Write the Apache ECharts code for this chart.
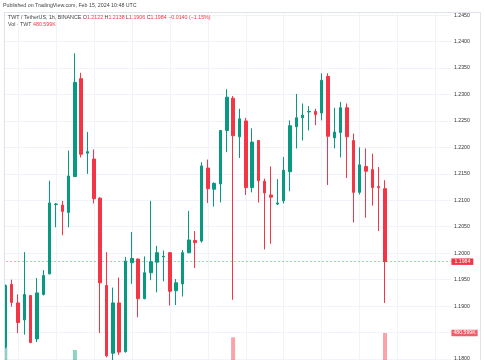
<!DOCTYPE html>
<html><head><meta charset="utf-8">
<script src="https://cdn.jsdelivr.net/npm/echarts@6/dist/echarts.min.js"></script>
<style>html,body{margin:0;padding:0;background:#fff}#c{width:485px;height:360px}</style>
</head><body><div id="c"></div>
<script>
// ---- data (TWT / TetherUS, 1h, BINANCE) ----
const categories = [
 '02-12 22:00','02-12 23:00',
 '02-13 00:00','02-13 01:00','02-13 02:00','02-13 03:00','02-13 04:00','02-13 05:00','02-13 06:00','02-13 07:00',
 '02-13 08:00','02-13 09:00','02-13 10:00','02-13 11:00','02-13 12:00','02-13 13:00','02-13 14:00','02-13 15:00',
 '02-13 16:00','02-13 17:00','02-13 18:00','02-13 19:00','02-13 20:00','02-13 21:00','02-13 22:00','02-13 23:00',
 '02-14 00:00','02-14 01:00','02-14 02:00','02-14 03:00','02-14 04:00','02-14 05:00','02-14 06:00','02-14 07:00',
 '02-14 08:00','02-14 09:00','02-14 10:00','02-14 11:00','02-14 12:00','02-14 13:00','02-14 14:00','02-14 15:00',
 '02-14 16:00','02-14 17:00','02-14 18:00','02-14 19:00','02-14 20:00','02-14 21:00','02-14 22:00','02-14 23:00',
 '02-15 00:00','02-15 01:00','02-15 02:00','02-15 03:00','02-15 04:00','02-15 05:00','02-15 06:00','02-15 07:00',
 '02-15 08:00','02-15 09:00','02-15 10:00'
];
const openP  = [1.1822,1.1941,1.1906,1.1874,1.1920,1.1838,1.1922,1.1961,1.2092,1.2091,1.2077,1.2145,1.2330,1.2189,1.2178,1.2104,1.1939,1.1811,1.1906,1.1814,1.1982,1.1989,1.1914,1.1963,1.1983,1.1993,1.2001,1.1929,1.1942,1.2001,1.2024,1.2023,1.2161,1.2121,1.2131,1.2232,1.2293,1.2220,1.2250,1.2124,1.2213,1.2136,1.2110,1.2093,1.2099,1.2154,1.2239,1.2256,1.2267,1.2268,1.2265,1.2334,1.2218,1.2228,1.2275,1.2213,1.2115,1.2164,1.2158,1.2126,1.2122];
const closeP = [1.1939,1.1907,1.1869,1.1922,1.1831,1.1925,1.1958,1.2095,1.2093,1.2079,1.2146,1.2323,1.2187,1.2192,1.2103,1.1944,1.1806,1.1906,1.1813,1.1985,1.1990,1.1914,1.1963,1.1984,1.2001,1.1994,1.1928,1.1944,1.2001,1.2025,1.2020,1.2165,1.2122,1.2132,1.2232,1.2295,1.2222,1.2254,1.2124,1.2210,1.2137,1.2114,1.2106,1.2095,1.2157,1.2241,1.2256,1.2261,1.2268,1.2262,1.2327,1.2221,1.2229,1.2275,1.2220,1.2115,1.2167,1.2155,1.2124,1.2124,1.1984];
const lowP   = [1.1820,1.1899,1.1849,1.1846,1.1830,1.1832,1.1920,1.1960,1.2049,1.2034,1.2049,1.2144,1.2181,1.2150,1.2094,1.1849,1.1803,1.1798,1.1808,1.1812,1.1942,1.1879,1.1913,1.1949,1.1926,1.1947,1.1901,1.1902,1.1918,1.2000,1.1972,1.2020,1.2095,1.2088,1.2096,1.2191,1.1912,1.2180,1.2110,1.2115,1.2096,1.2007,1.2018,1.2091,1.2094,1.2117,1.2198,1.2213,1.2232,1.2242,1.2251,1.2129,1.2198,1.2181,1.2142,1.2058,1.2111,1.2067,1.2090,1.2042,1.1906];
const highP  = [1.1941,1.1950,1.1922,1.2002,1.1921,1.1953,1.1968,1.2137,1.2095,1.2099,1.2194,1.2378,1.2341,1.2229,1.2196,1.2106,1.2002,1.1935,1.1954,1.1993,1.2040,1.1990,1.1994,1.2099,1.2014,1.2005,1.2002,1.1951,1.2006,1.2080,1.2042,1.2172,1.2177,1.2134,1.2232,1.2310,1.2297,1.2273,1.2256,1.2236,1.2214,1.2141,1.2164,1.2140,1.2182,1.2251,1.2301,1.2283,1.2278,1.2273,1.2340,1.2340,1.2275,1.2286,1.2283,1.2226,1.2200,1.2198,1.2188,1.2163,1.2138];
const volumeK = [309,95,88,120,105,110,60,150,70,55,130,286,165,90,100,160,165,140,120,150,80,95,70,85,60,45,70,50,65,60,55,140,110,60,120,130,431,110,150,120,100,110,90,60,95,120,100,70,50,55,110,160,80,100,110,150,100,95,85,90,480.599];
const priceTicks = {min: 1.175, max: 1.250, step: 0.005};

// ---- layout ----
const UP = '#089981', DOWN = '#F23645';
const STEP = 6.328, X0 = 5.3, NCAT = 71;
const PX_PER = 5290, Y_REF = 253.2;  // pixel of 1.2000
const gridLeft = X0 - STEP / 2, gridWidth = NCAT * STEP;
const yTop = Y_REF - (priceTicks.max - 1.2) * PX_PER;
const yBot = Y_REF + (1.2 - priceTicks.min) * PX_PER;
const FONT = '"Liberation Sans", Arial, sans-serif';

const n = openP.length;
const xData = categories.concat(Array(NCAT - n).fill(''));
const candleData = openP.map((o, i) => [o, closeP[i], lowP[i], highP[i]]);
const volData = volumeK.map((v, i) => ({
  value: v,
  itemStyle: {color: closeP[i] >= openP[i] ? 'rgba(8,153,129,0.45)' : 'rgba(242,54,69,0.45)'}
}));
const last = n - 1;
const chg = closeP[last] - closeP[last - 1];
const pct = chg / closeP[last - 1] * 100;
const sgn = chg < 0 ? '\u2212' : '+';
const chgTxt = sgn + Math.abs(chg).toFixed(4) + ' (' + sgn + Math.abs(pct).toFixed(2) + '%)';
const volTxt = volumeK[last].toFixed(3) + 'K';
const priceTxt = closeP[last].toFixed(4);

const richStyles = {a: {fontSize: 5.3, color: '#444', fontFamily: FONT}, r: {fontSize: 5.3, color: DOWN, fontFamily: FONT}};

const chart = echarts.init(document.getElementById('c'), null, {renderer: 'canvas'});
chart.setOption({
  animation: false,
  backgroundColor: '#fff',
  textStyle: {fontFamily: FONT},
  title: [
    {text: 'Published on TradingView.com, Feb 15, 2024 10:48 UTC', left: 3, top: 3, padding: 0,
     textStyle: {fontSize: 5.3, fontWeight: 'normal', color: '#444', fontFamily: FONT}},
    {text: '{a|TWT / TetherUS, 1h, BINANCE} {a|O}{r|' + openP[last].toFixed(4) + '} {a|H}{r|' + highP[last].toFixed(4) +
           '} {a|L}{r|' + lowP[last].toFixed(4) + '} {a|C}{r|' + closeP[last].toFixed(4) + '} {r|' + chgTxt + '}',
     left: 8, top: 15, padding: 0,
     textStyle: {fontSize: 5.3, fontWeight: 'normal', fontFamily: FONT, rich: richStyles}},
    {text: '{a|Vol \u00b7 TWT} {r|' + volTxt + '}', left: 8, top: 21.6, padding: 0,
     textStyle: {fontSize: 5.3, fontWeight: 'normal', fontFamily: FONT, rich: richStyles}}
  ],
  grid: [
    {left: gridLeft, width: gridWidth, top: yTop, height: yBot - yTop, containLabel: false, outerBoundsMode: 'none'},
    {left: X0 - 4 * STEP, width: 72 * STEP, top: 12, height: 348, containLabel: false, outerBoundsMode: 'none'},
    {left: gridLeft, width: gridWidth, top: 375 - 600 / 480.599 * 42, height: 600 / 480.599 * 42, containLabel: false, outerBoundsMode: 'none'}
  ],
  xAxis: [
    {type: 'category', gridIndex: 0, data: xData, boundaryGap: true, show: false},
    {type: 'value', gridIndex: 1, min: 0, max: 72, interval: 6,
     axisLine: {show: false}, axisTick: {show: false}, axisLabel: {show: false},
     splitLine: {show: true, lineStyle: {color: '#f0f3fa', width: 1}}},
    {type: 'category', gridIndex: 2, data: xData, boundaryGap: true, show: false}
  ],
  yAxis: [
    {type: 'value', gridIndex: 0, position: 'right', min: priceTicks.min, max: priceTicks.max, interval: priceTicks.step,
     axisLine: {show: false}, axisTick: {show: false},
     axisLabel: {show: true, margin: 2.5, fontSize: 5.2, color: '#333', fontFamily: FONT,
                 formatter: v => v.toFixed(4)},
     splitLine: {show: true, lineStyle: {color: '#f0f3fa', width: 1}}},
    {type: 'value', gridIndex: 1, show: false, min: 0, max: 1},
    {type: 'value', gridIndex: 2, show: false, min: 0, max: 600}
  ],
  series: [
    {type: 'bar', xAxisIndex: 2, yAxisIndex: 2, data: volData, barWidth: 4, z: 1,
     markLine: {symbol: 'none', silent: true, animation: false, precision: 3,
       lineStyle: {width: 1, color: 'rgba(0,0,0,0)', type: 'solid'},
       label: {show: true, position: 'end', distance: 0, formatter: volTxt, color: '#fff',
               backgroundColor: '#f45c68', fontSize: 5.2, padding: [1, 2, 0.5, 2], fontFamily: FONT},
       data: [{yAxis: volumeK[last]}]}},
    {type: 'candlestick', xAxisIndex: 0, yAxisIndex: 0, data: candleData, barWidth: 3, z: 3,
     itemStyle: {color: UP, color0: DOWN, borderColor: UP, borderColor0: DOWN, borderWidth: 1},
     markLine: {symbol: 'none', silent: true, animation: false, precision: 4,
       lineStyle: {color: 'rgba(242,54,69,0.45)', width: 1, type: [2, 2]},
       label: {show: true, position: 'end', distance: 0, formatter: priceTxt, color: '#fff',
               backgroundColor: DOWN, fontSize: 5.2, padding: [1, 3, 0.5, 3], fontFamily: FONT},
       data: [{yAxis: closeP[last]}]}}
  ],
  graphic: [
    {type: 'rect', shape: {x: 0, y: 12, width: 4, height: 348}, style: {fill: '#fff'}, z: 100, silent: true},
    {type: 'rect', shape: {x: 481, y: 0, width: 4, height: 360}, style: {fill: '#fff'}, z: 100, silent: true},
    {type: 'line', shape: {x1: 4, y1: 12.5, x2: 480.5, y2: 12.5}, style: {stroke: '#e0e3eb', lineWidth: 1}, z: 101, silent: true},
    {type: 'line', shape: {x1: 4.5, y1: 12.5, x2: 4.5, y2: 360}, style: {stroke: '#e0e3eb', lineWidth: 1}, z: 101, silent: true},
    {type: 'line', shape: {x1: 480.5, y1: 12.5, x2: 480.5, y2: 360}, style: {stroke: '#e0e3eb', lineWidth: 1}, z: 101, silent: true}
  ]
});
</script>
</body></html>
